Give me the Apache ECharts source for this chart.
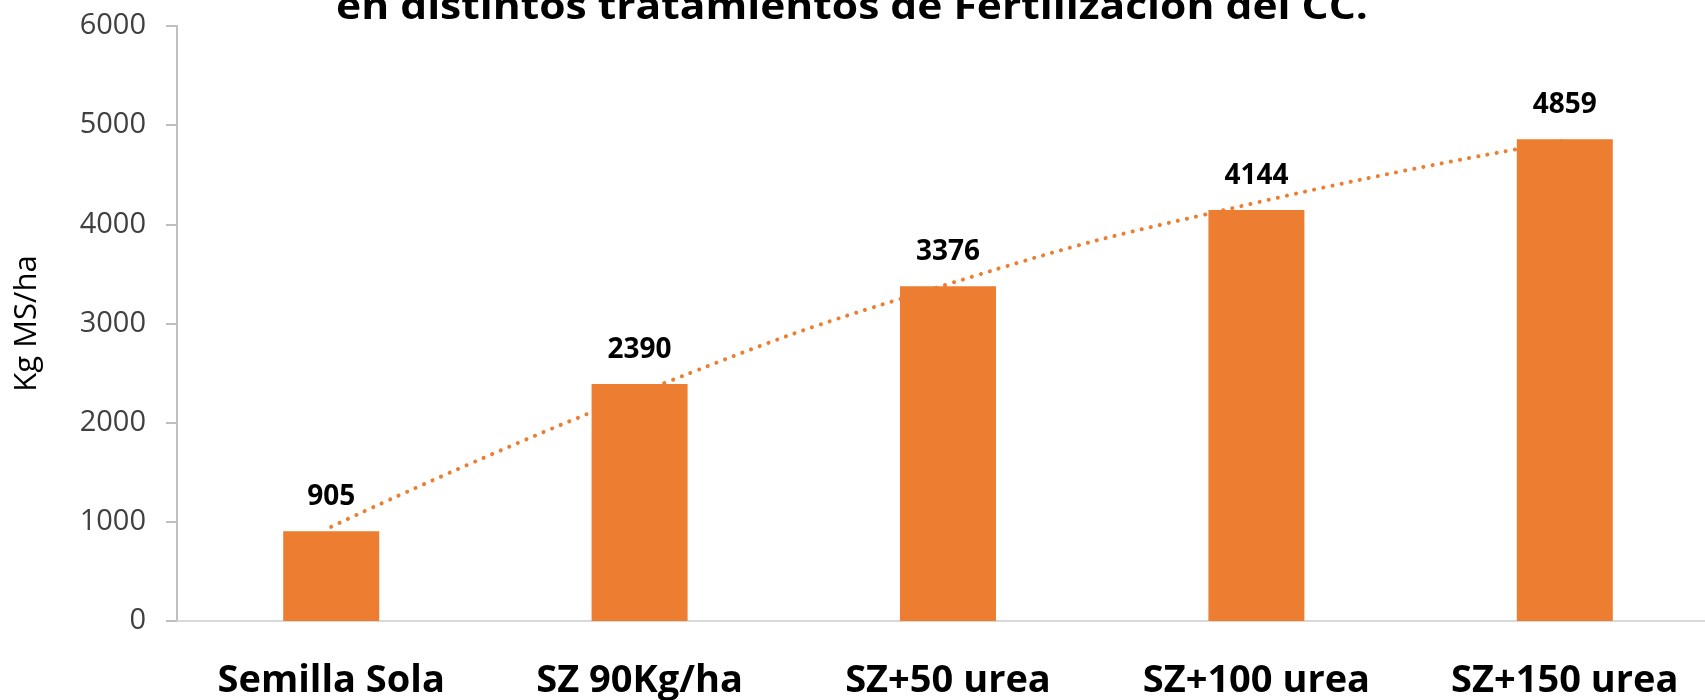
<!DOCTYPE html>
<html>
<head>
<meta charset="utf-8">
<script src="https://cdn.jsdelivr.net/npm/echarts@6/dist/echarts.min.js"></script>
<style>html,body{margin:0;padding:0;background:#fff;overflow:hidden;width:1705px;height:700px;}#c{width:1720px;height:700px;}</style>
</head>
<body>
<div id="c"></div>
<script>
const titleText = 'en distintos tratamientos de Fertilización del CC.';
const axisName = 'Kg MS/ha';
const categories = ['Semilla Sola', 'SZ 90Kg/ha', 'SZ+50 urea', 'SZ+100 urea', 'SZ+150 urea'];
const values = [905, 2390, 3376, 4144, 4859];
const trendValues = [950, 2300, 3397, 4219, 4844];
const yTicks = [0, 1000, 2000, 3000, 4000, 5000, 6000];

const chart = echarts.init(document.getElementById('c'), null, {renderer: 'canvas', width: 1720, height: 700});
chart.setOption({
  animation: false,
  backgroundColor: '#ffffff',
  graphic: [{
    type: 'text',
    x: 852,
    y: 8,
    scaleX: 1.12,
    style: {
      text: titleText,
      font: 'bold 38px "Open Sans"',
      fill: '#000000',
      align: 'center',
      verticalAlign: 'middle'
    }
  }],
  grid: {left: 177, top: 26, right: 1, bottom: 78, containLabel: false},
  xAxis: {
    type: 'category',
    data: categories,
    axisLine: {show: true, lineStyle: {color: '#d9d9d9', width: 2}},
    axisTick: {show: false},
    axisLabel: {
      margin: 41,
      fontFamily: 'Open Sans',
      fontWeight: 'bold',
      fontSize: 38,
      color: '#000000'
    }
  },
  yAxis: {
    type: 'value',
    min: yTicks[0],
    max: yTicks[yTicks.length - 1],
    interval: 1000,
    name: axisName,
    nameLocation: 'middle',
    nameGap: 134,
    nameTextStyle: {fontFamily: 'Open Sans', fontSize: 31, color: '#000000'},
    axisLine: {show: true, lineStyle: {color: '#bfbfbf', width: 2}},
    axisTick: {show: true, length: 11, lineStyle: {color: '#bfbfbf', width: 2}},
    splitLine: {show: false},
    axisLabel: {
      margin: 31,
      fontFamily: 'Open Sans',
      fontSize: 29,
      color: '#404040',
      formatter: function (v) { return String(v); }
    }
  },
  series: [
    {
      type: 'line',
      data: trendValues,
      smooth: true,
      symbol: 'none',
      z: 1,
      lineStyle: {color: '#ED7D31', width: 4, type: [0.1, 9.2], cap: 'round'}
    },
    {
      type: 'bar',
      data: values,
      barWidth: 96,
      z: 2,
      itemStyle: {color: '#ED7D31'},
      label: {
        show: true,
        position: 'top',
        distance: 20,
        fontFamily: 'Open Sans',
        fontWeight: 'bold',
        fontSize: 28,
        color: '#000000'
      }
    }
  ]
});
</script>
</body>
</html>
